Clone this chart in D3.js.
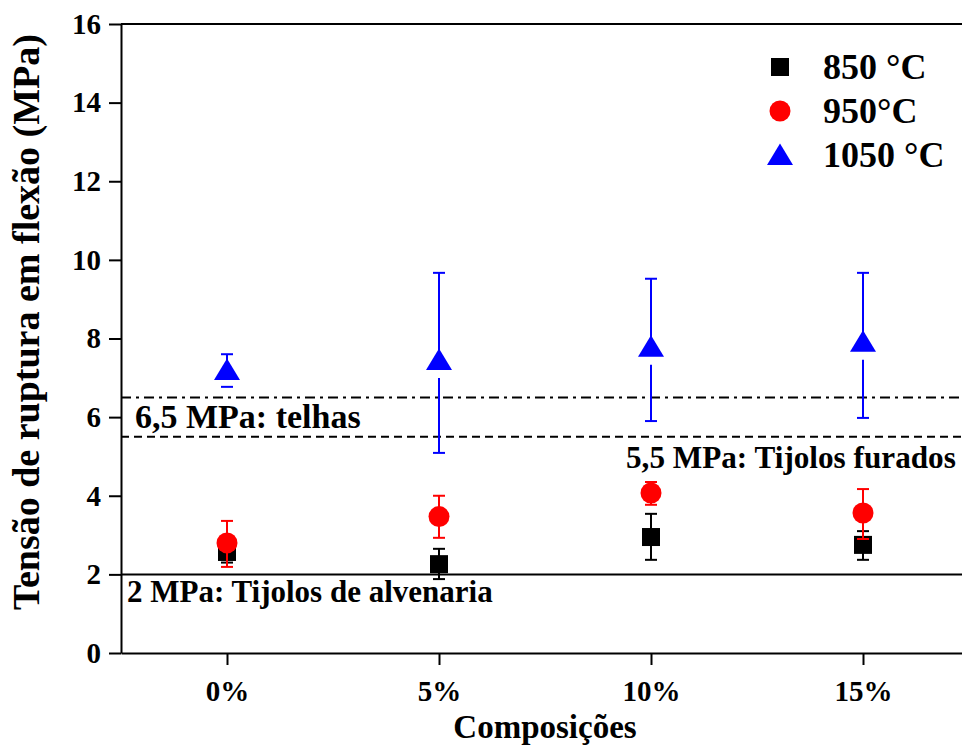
<!DOCTYPE html>
<html>
<head>
<meta charset="utf-8">
<script src="https://cdn.jsdelivr.net/npm/d3@7"></script>
<style>
  body { margin: 0; background: #fff; }
  svg { display: block; font-family: "Liberation Serif", "Times New Roman", serif; font-weight: bold; }
</style>
</head>
<body>
<div id="chart"></div>
<script>
// categories and series
const categories = ['0%', '5%', '10%', '15%'];
const seriesNames = ['850 °C', '950°C', '1050 °C'];
const mean850 = [2.57, 2.26, 2.95, 2.75];
const low850 = [2.3, 1.88, 2.37, 2.37];
const high850 = [2.85, 2.65, 3.54, 3.1];
const mean950 = [2.8, 3.47, 4.07, 3.56];
const low950 = [2.19, 2.93, 3.77, 2.9];
const high950 = [3.36, 4.0, 4.35, 4.17];
const mean1050 = [7.2, 7.45, 7.79, 7.92];
const low1050 = [6.77, 5.09, 5.9, 5.98];
const high1050 = [7.6, 9.67, 9.52, 9.67];
const yTicks = [0, 2, 4, 6, 8, 10, 12, 14, 16];
const refValues = [6.5, 5.5, 2];
const refLabels = ['6,5 MPa: telhas', '5,5 MPa: Tijolos furados', '2 MPa: Tijolos de alvenaria'];

const W = 962, H = 747;
const margin = { left: 121, top: 24 };
const innerW = 848, innerH = 629;

const svg = d3.select('#chart').append('svg')
  .attr('width', W).attr('height', H);
const g = svg.append('g')
  .attr('transform', `translate(${margin.left},${margin.top})`);

const x = d3.scalePoint().domain(categories).range([0, innerW]).padding(0.5);
const y = d3.scaleLinear().domain([0, 16]).range([innerH, 0]);

// axes
const yAxis = g.append('g')
  .call(d3.axisLeft(y).tickValues(yTicks).tickSize(12).tickPadding(8).tickSizeOuter(0));
yAxis.selectAll('text').attr('font-size', 29).attr('fill', '#000').attr('font-weight', 'bold')
  .attr('font-family', '"Liberation Serif", serif');
yAxis.selectAll('line, path').attr('stroke', '#000').attr('stroke-width', 2);

const xAxis = g.append('g')
  .attr('transform', `translate(0,${innerH})`)
  .call(d3.axisBottom(x).tickSize(12).tickPadding(10).tickSizeOuter(0));
xAxis.selectAll('text').attr('font-size', 29).attr('fill', '#000').attr('font-weight', 'bold')
  .attr('font-family', '"Liberation Serif", serif').attr('dy', '0.9em');
xAxis.selectAll('line, path').attr('stroke', '#000').attr('stroke-width', 2);

// top frame line
g.append('line').attr('x1', 0).attr('x2', innerW).attr('y1', 0).attr('y2', 0)
  .attr('stroke', '#000').attr('stroke-width', 2);

// reference lines
const refDash = ['10,5,3,5', '8,5', null];
refValues.forEach((v, i) => {
  g.append('line')
    .attr('x1', 0).attr('x2', innerW)
    .attr('y1', y(v)).attr('y2', y(v))
    .attr('stroke', '#000').attr('stroke-width', 2)
    .attr('stroke-dasharray', refDash[i]);
});
g.append('text').attr('x', 14).attr('y', y(6.5) + 31).attr('font-size', 34).text(refLabels[0]);
g.append('text').attr('x', 505).attr('y', y(5.5) + 31).attr('font-size', 31.2).text(refLabels[1]);
g.append('text').attr('x', 6).attr('y', y(2) + 28).attr('font-size', 31).text(refLabels[2]);

// series
const series = [
  { mean: mean850, low: low850, high: high850, color: '#000', shape: 'square', gap: 0 },
  { mean: mean950, low: low950, high: high950, color: '#ff0000', shape: 'circle', gap: 0 },
  { mean: mean1050, low: low1050, high: high1050, color: '#0000ff', shape: 'triangle', gap: 18 }
];

function drawMarker(sel, shape, color) {
  if (shape === 'square') {
    sel.append('rect').attr('x', -9).attr('y', -9).attr('width', 18).attr('height', 18).attr('fill', color);
  } else if (shape === 'circle') {
    sel.append('circle').attr('r', 10.5).attr('fill', color);
  } else {
    sel.append('path').attr('d', 'M0,-11.5L13,10L-13,10Z').attr('fill', color);
  }
}

series.forEach(s => {
  const grp = g.append('g');
  categories.forEach((c, i) => {
    const cx = x(c), cy = y(s.mean[i]);
    const yt = y(s.high[i]), yb = y(s.low[i]);
    grp.append('line').attr('x1', cx).attr('x2', cx).attr('y1', yt).attr('y2', cy)
      .attr('stroke', s.color).attr('stroke-width', 2);
    if (yb > cy + s.gap) {
      grp.append('line').attr('x1', cx).attr('x2', cx).attr('y1', cy + s.gap).attr('y2', yb)
        .attr('stroke', s.color).attr('stroke-width', 2);
    }
    [yt, yb].forEach(yy => {
      grp.append('line').attr('x1', cx - 6).attr('x2', cx + 6).attr('y1', yy).attr('y2', yy)
        .attr('stroke', s.color).attr('stroke-width', 2);
    });
    drawMarker(grp.append('g').attr('transform', `translate(${cx},${cy})`), s.shape, s.color);
  });
});

// legend
const legend = svg.append('g').attr('transform', 'translate(780,67)');
series.forEach((s, i) => {
  const row = legend.append('g').attr('transform', `translate(0,${i * 44})`);
  drawMarker(row, s.shape, s.color);
  row.append('text').attr('x', 43).attr('y', 12).attr('font-size', 36).text(seriesNames[i]);
});

// axis titles
svg.append('text')
  .attr('x', margin.left + 424).attr('y', 738)
  .attr('text-anchor', 'middle').attr('font-size', 33)
  .text('Composições');
svg.append('text')
  .attr('transform', `translate(39,${margin.top + 298}) rotate(-90)`)
  .attr('text-anchor', 'middle').attr('font-size', 38)
  .text('Tensão de ruptura em flexão (MPa)');
</script>
</body>
</html>
